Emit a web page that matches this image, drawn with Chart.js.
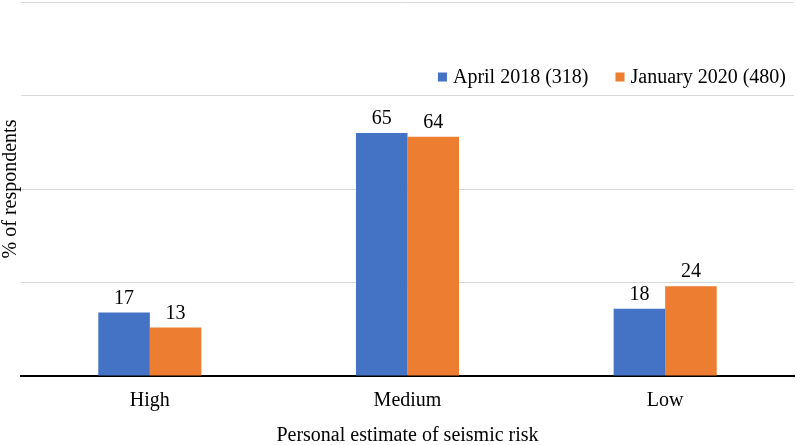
<!DOCTYPE html>
<html>
<head>
<meta charset="utf-8">
<script src="https://cdn.jsdelivr.net/npm/chart.js@4"></script>
<style>
  html, body { margin: 0; padding: 0; background: #fff; }
  #wrap { position: relative; width: 797px; height: 445px; }
</style>
</head>
<body>
<div id="wrap"><canvas id="c" width="797" height="445"></canvas></div>
<script>
const categories = ["High", "Medium", "Low"];
const seriesNames = ["April 2018 (318)", "January 2020 (480)"];
const april2018 = [17, 65, 18];
const january2020 = [13, 64, 24];
const yTicks = [0, 25, 50, 75, 100];

const colors = ["#4472C4", "#ED7D31"];
const FONT = "'Liberation Serif', 'Times New Roman', serif";

const valueLabels = {
  id: 'valueLabels',
  afterDatasetsDraw(chart) {
    const ctx = chart.ctx;
    ctx.save();
    ctx.font = "20px " + FONT;
    ctx.fillStyle = "#000";
    ctx.textAlign = "center";
    ctx.textBaseline = "bottom";
    chart.data.datasets.forEach((ds, i) => {
      const meta = chart.getDatasetMeta(i);
      meta.data.forEach((bar, j) => {
        ctx.fillText(String(ds.data[j]), bar.x, bar.y - 4);
      });
    });
    ctx.restore();
  }
};

const innerLegend = {
  id: 'innerLegend',
  afterDraw(chart) {
    const ctx = chart.ctx;
    ctx.save();
    ctx.font = "20px " + FONT;
    ctx.textBaseline = "middle";
    ctx.textAlign = "left";
    const yMid = 77;
    const box = 9;
    const gapBoxText = 6;
    const gapItems = 27;
    const rightEdge = 786;
    let widths = seriesNames.map(n => ctx.measureText(n).width);
    let total = 0;
    widths.forEach((w, i) => { total += box + gapBoxText + w + (i < widths.length - 1 ? gapItems : 0); });
    let x = rightEdge - total;
    seriesNames.forEach((n, i) => {
      ctx.fillStyle = colors[i];
      ctx.fillRect(x, yMid - box / 2, box, box);
      x += box + gapBoxText;
      ctx.fillStyle = "#000";
      ctx.fillText(n, x, yMid + 1);
      x += widths[i] + gapItems;
    });
    ctx.restore();
  }
};

new Chart(document.getElementById('c'), {
  type: 'bar',
  data: {
    labels: categories,
    datasets: [
      { label: seriesNames[0], data: april2018, backgroundColor: colors[0] },
      { label: seriesNames[1], data: january2020, backgroundColor: colors[1] }
    ]
  },
  options: {
    responsive: false,
    animation: false,
    devicePixelRatio: 1,
    layout: { padding: { top: 2, right: 3, left: 1, bottom: 0 } },
    datasets: { bar: { categoryPercentage: 0.4, barPercentage: 1.0 } },
    plugins: {
      legend: { display: false },
      tooltip: { enabled: false }
    },
    scales: {
      x: {
        grid: { display: false, drawTicks: false },
        border: { display: true, color: '#000', width: 2 },
        ticks: { color: '#000', font: { family: FONT, size: 20 }, padding: 13 },
        title: { display: true, text: 'Personal estimate of seismic risk', color: '#000', font: { family: FONT, size: 20, lineHeight: 0.9 }, padding: { top: 1, bottom: 0 } }
      },
      y: {
        min: yTicks[0],
        max: yTicks[yTicks.length - 1],
        afterBuildTicks(axis) { axis.ticks = yTicks.map(v => ({ value: v })); },
        grid: { color: '#D9D9D9', lineWidth: 1, drawTicks: false },
        border: { display: false },
        ticks: { display: false },
        title: { display: true, text: '% of respondents', color: '#000', font: { family: FONT, size: 20, lineHeight: 1.0 }, padding: { top: 0, bottom: 0 } }
      }
    }
  },
  plugins: [valueLabels, innerLegend]
});
</script>
</body>
</html>
